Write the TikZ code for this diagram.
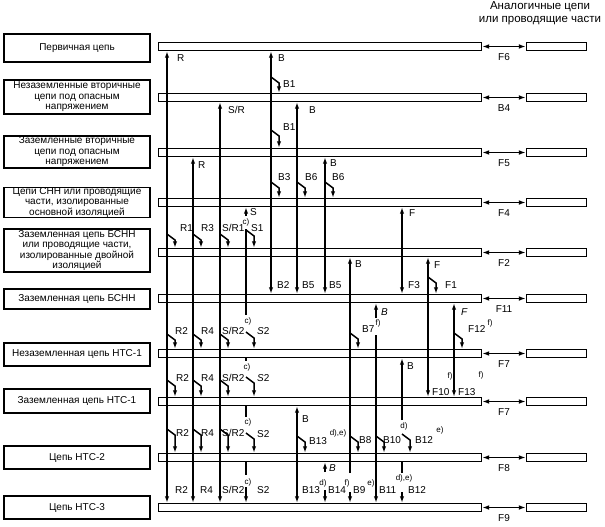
\documentclass[tikz,border=0pt]{standalone}
\usepackage{fontspec}
\setmainfont{Liberation Sans}
\usetikzlibrary{arrows.meta}
\newcounter{labn}
\newcommand\lab[3][]{\stepcounter{labn}\node[lbl,#1] (t\arabic{labn}) at (#2) {#3};}
\newcommand\fnote[2]{\stepcounter{labn}\node[fn] (t\arabic{labn}) at (#1) {#2};}
\newcommand\kink[3]{\draw[tip] (#1,#2) -- ++(8,6) coordinate (kk) -- (kk |- #3.north);}
\begin{document}
\begin{tikzpicture}[x=1pt,y=-1pt,
  lbl/.style={font=\fontsize{10}{12}\selectfont, inner sep=0pt, anchor=west, text height=7.2pt, text depth=0pt},
  fn/.style={font=\fontsize{8}{9}\selectfont, inner sep=0pt, text height=5.7pt, text depth=0pt},
  lbox/.style={draw, line width=1.9pt, minimum width=146pt, align=center, inner sep=0pt, font=\fontsize{10}{10.5}\selectfont},
  bar/.style={draw, line width=1.4pt, minimum width=323pt, minimum height=7.8pt, inner sep=0pt},
  rbar/.style={draw, line width=1.4pt, minimum width=60pt, minimum height=7.8pt, inner sep=0pt},
  wire/.style={line width=1.5pt},
  tip/.style={wire, -{Latex[length=6.5pt,width=4.3pt]}},
  bothtip/.style={wire, {Latex[length=6.5pt,width=4.3pt]}-{Latex[length=6.5pt,width=4.3pt]}},
  dtip/.style={wire, {Latex[length=7pt,width=4.8pt]}-{Latex[length=7pt,width=4.8pt]}},
]
\useasboundingbox (0,0) rectangle (605,527);

% header
\node[font=\fontsize{11.5}{12.5}\selectfont, align=center, inner sep=0pt] (head) at (540,13) {Аналогичные цепи\\или проводящие части};

% columns
\foreach \n/\x in {ca/167,cb/193,cc/220,cd/246,ce/271,cf/297,cg/325,ch/350,ci/376,cj/402,ck/428,cl/454} {\coordinate (\n) at (\x,0);}

% bars
\foreach \i/\y/\t in {1/46.5/F6,2/97.5/B4,3/152.5/F5,4/202.5/F4,5/252.5/F2,6/298.5/F11,7/353.5/F7,8/401.5/F7,9/457.5/F8,10/507.5/F9} {
  \node[bar] (b\i) at (320,\y) {};
  \node[rbar] (r\i) at (556.5,\y) {};
  \draw[dtip] (b\i.east) -- (r\i.west);
  \node[lbl, anchor=center] (f\i) at (504,\y+10) {\t};
}

% left boxes
\node[lbox, minimum height=28pt] (l1) at (77,48) {Первичная цепь};
\node[lbox, minimum height=34pt] (l2) at (77,97) {Незаземленные вторичные\\цепи под опасным\\напряжением};
\node[lbox, minimum height=32pt] (l3) at (77,152) {Заземленные вторичные\\цепи под опасным\\напряжением};
\node[lbox, minimum height=29pt] (l4) at (77,202.5) {Цепи СНН или проводящие\\части, изолированные\\основной изоляцией};
\node[lbox, minimum height=43pt] (l5) at (77,250.5) {Заземленная цепь БСНН\\или проводящие части,\\изолированные двойной\\изоляцией};
\node[lbox, minimum height=20pt] (l6) at (77,299) {Заземленная цепь БСНН};
\node[lbox, minimum height=23pt] (l7) at (77,354.5) {Незаземленная цепь НТС-1};
\node[lbox, minimum height=24pt] (l8) at (77,401) {Заземленная цепь НТС-1};
\node[lbox, minimum height=23pt] (l9) at (77,457.5) {Цепь НТС-2};
\node[lbox, minimum height=23pt] (l10) at (77,507.5) {Цепь НТС-3};

% long lines
\draw[bothtip] (ca |- b1.south) -- (ca |- b10.north);
\draw[bothtip] (cb |- b3.south) -- (cb |- b10.north);
\draw[bothtip] (cc |- b2.south) -- (cc |- b10.north);
\draw[bothtip] (ce |- b1.south) -- (ce |- b6.north);
\draw[bothtip] (cf |- b2.south) -- (cf |- b6.north);
\draw[bothtip] (cg |- b3.south) -- (cg |- b6.north);
\draw[bothtip] (cj |- b4.south) -- (cj |- b6.north);
\draw[bothtip] (ck |- b5.south) -- (ck |- b8.north);
\draw[bothtip] (cl |- b6.south) -- (cl |- b8.north);
\draw[bothtip] (cf |- b8.south) -- (cf |- b10.north);

% S column
\draw[tip] (246,216) -- (cd |- b4.south);
\draw[wire] (246,229) -- (246,315);
\draw[wire] (cd |- b7.south) -- (246,361);
\draw[wire] (cd |- b8.south) -- (246,417);
\draw[wire] (cd |- b9.south) -- (246,475);
\draw[tip] (246,487) -- (cd |- b10.north);

% other partial lines
\draw[tip] (350,473) -- (ch |- b5.south);
\draw[tip] (350,492) -- (ch |- b10.north);
\draw[tip] (376,318) -- (ci |- b6.south);
\draw[tip] (376,335) -- (ci |- b10.north);
\draw[tip] (402,420) -- (cj |- b7.south);
\draw[wire] (cj |- b9.south) -- (402,473);
\draw[tip] (402,492) -- (cj |- b10.north);
\draw[tip] (325,472) -- (cg |- b9.south);
\draw[tip] (325,490) -- (cg |- b10.north);

% kinks
\kink{271}{77}{b2}
\kink{271}{130}{b3}
\kink{271}{182}{b4}
\kink{297}{182}{b4}
\kink{325}{182}{b4}
\kink{167}{234}{b5}
\kink{193}{234}{b5}
\kink{220}{234}{b5}
\kink{246}{230}{b5}
\kink{428}{277}{b6}
\kink{167}{334}{b7}
\kink{193}{334}{b7}
\kink{220}{334}{b7}
\kink{246}{332}{b7}
\kink{350}{333}{b7}
\kink{454}{333}{b7}
\kink{167}{380}{b8}
\kink{193}{380}{b8}
\kink{220}{380}{b8}
\kink{246}{377}{b8}
\kink{167}{429}{b9}
\kink{193}{429}{b9}
\kink{220}{429}{b9}
\kink{246}{433}{b9}
\kink{297}{436}{b9}
\kink{350}{436}{b9}
\kink{376}{436}{b9}
\kink{402}{434}{b9}

% labels
\lab{177,57.5}{R}
\lab{278,57.5}{B}
\lab{283,84}{B1}
\lab{228,110}{S/R}
\lab{309,110}{B}
\lab{283,127}{B1}
\lab{198,165}{R}
\lab{330,163}{B}
\lab{278,177}{B3}
\lab{305,177}{B6}
\lab{332,177}{B6}
\lab{409,213}{F}
\lab{250,212}{S}
\lab{180,228}{R1}
\lab{201,228}{R3}
\lab{222,228}{S/R1}
\lab{251,228}{S1}
\fnote{246,222}{c)}
\lab{355,264}{B}
\lab{434,265}{F}
\lab{277,285}{B2}
\lab{302,285}{B5}
\lab{329,285}{B5}
\lab{408,285}{F3}
\lab{445,285}{F1}
\lab{381,312}{\textit{B}}
\lab{461,312}{\textit{F}}
\fnote{248,321}{c)}
\lab{175,331}{R2}
\lab{201,331}{R4}
\lab{222,331}{S/R2}
\lab{257,331}{\textit{S}2}
\lab{362,329}{B7}
\fnote{378,323}{f)}
\lab{468,329}{F12}
\fnote{490,323}{f)}
\lab{407,366}{B}
\fnote{247,367}{c)}
\lab{176,378}{R2}
\lab{201,378}{R4}
\lab{222,378}{S/R2}
\lab{257,378}{\textit{S}2}
\lab{432,392}{F10}
\fnote{450,376}{f)}
\lab{458,392}{F13}
\fnote{481,375}{f)}
\lab{302,419}{B}
\fnote{248,422}{c)}
\fnote{404,426}{d)}
\lab{176,433}{R2}
\lab{201,433}{R4}
\lab{222,433}{S/R2}
\lab{257,434}{S2}
\lab{309,441}{B13}
\fnote{338,433}{d),e)}
\lab{359,440}{B8}
\lab{383,440}{B10}
\lab{415,440}{B12}
\fnote{440,430}{e)}
\lab{329,468}{\textit{B}}
\fnote{404,478}{d),e)}
\fnote{248,482}{c)}
\lab{175,490}{R2}
\lab{200,490}{R4}
\lab{222,490}{S/R2}
\lab{257,490}{S2}
\lab{302,490}{B13}
\fnote{323,483}{d)}
\lab{328,490}{B14}
\fnote{347,483}{f)}
\lab{353,490}{B9}
\fnote{371,483}{e)}
\lab{379,490}{B11}
\lab{408,490}{B12}
\end{tikzpicture}
\end{document}
